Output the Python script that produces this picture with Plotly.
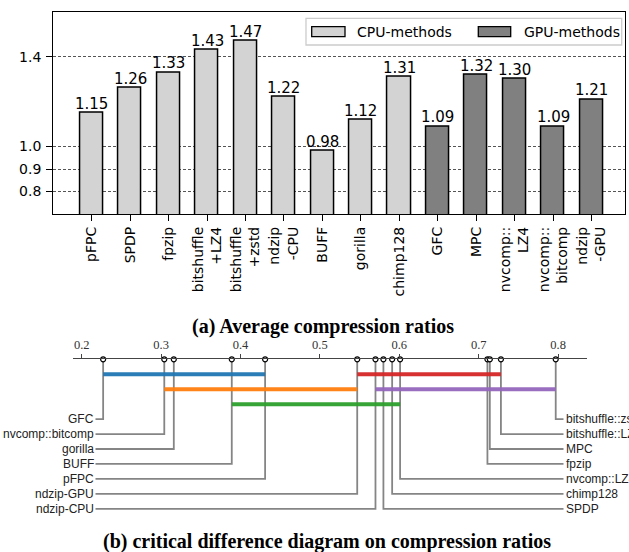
import plotly.graph_objects as go

# ---------------- data ----------------
methods = ["pFPC", "SPDP", "fpzip", "bitshuffle<br>+LZ4", "bitshuffle<br>+zstd",
           "ndzip<br>-CPU", "BUFF", "gorilla", "chimp128", "GFC", "MPC",
           "nvcomp::<br>LZ4", "nvcomp::<br>bitcomp", "ndzip<br>-GPU"]
ratios = [1.15, 1.26, 1.33, 1.43, 1.47, 1.22, 0.98, 1.12, 1.31, 1.09, 1.32, 1.30, 1.09, 1.21]
groups = ["CPU"] * 9 + ["GPU"] * 5
y_ticks = [0.8, 0.9, 1.0, 1.4]

cd_names = ["GFC", "nvcomp::bitcomp", "gorilla", "BUFF", "pFPC", "ndzip-GPU", "ndzip-CPU",
            "SPDP", "chimp128", "nvcomp::LZ4", "fpzip", "MPC", "bitshuffle::LZ4", "bitshuffle::zstd"]
cd_ranks = [0.227, 0.304, 0.316, 0.389, 0.431, 0.547, 0.570,
            0.580, 0.591, 0.601, 0.711, 0.714, 0.728, 0.797]
cliques = [("GFC", "pFPC"), ("nvcomp::bitcomp", "ndzip-GPU"), ("BUFF", "nvcomp::LZ4"),
           ("ndzip-GPU", "bitshuffle::LZ4"), ("ndzip-CPU", "bitshuffle::zstd")]
clique_colors = ["#1f77b4", "#ff7f0e", "#2ca02c", "#d62728", "#9467bd"]
cd_ticks = [0.2, 0.3, 0.4, 0.5, 0.6, 0.7, 0.8]

# ---------------- layout helpers ----------------
W, H = 629, 552
def px_x(x):
    return x / W
def px_y(y):
    return 1 - y / H

fig = go.Figure()
annotations = []

# ---------------- (a) bar chart ----------------
group_style = {"CPU": ("#d3d3d3", "CPU-methods"), "GPU": ("#808080", "GPU-methods")}
for g in ["CPU", "GPU"]:
    xs = [m for m, gg in zip(methods, groups) if gg == g]
    ys = [r for r, gg in zip(ratios, groups) if gg == g]
    fig.add_trace(go.Bar(
        x=xs, y=ys, width=0.6, name=group_style[g][1],
        marker=dict(color=group_style[g][0], line=dict(color="black", width=1.5)),
        showlegend=False, xaxis="x", yaxis="y", hoverinfo="x+y",
    ))

for m, r in zip(methods, ratios):
    annotations.append(dict(x=m, y=r, xref="x", yref="y", text=f"{r:.2f}", showarrow=False,
                            xanchor="center", yanchor="bottom", yshift=-2,
                            font=dict(family="DejaVu Sans", size=15, color="black")))

# ---------------- (b) critical difference diagram ----------------
AX_TOP = 359.3
ROW = 14.95
N_ROWS = 11
rank_of = dict(zip(cd_names, cd_ranks))

# x-axis pixel calibration for the CD axis
X0_PX, X0_VAL, PX_PER_UNIT = 81.7, 0.2, 794.0
def cd_val(px):
    return X0_VAL + (px - X0_PX) / PX_PER_UNIT

order = sorted(range(len(cd_names)), key=lambda i: cd_ranks[i])
half = len(order) // 2
left_idx = order[:half]
right_idx = list(reversed(order[half:]))
left_end = cd_val(95.5)
right_end = cd_val(563.5)

cx, cy = [], []
for row, i in enumerate(left_idx, start=4):
    cx += [cd_ranks[i], cd_ranks[i], left_end, None]
    cy += [0, row, row, None]
for row, i in enumerate(right_idx, start=4):
    cx += [cd_ranks[i], cd_ranks[i], right_end, None]
    cy += [0, row, row, None]
fig.add_trace(go.Scatter(x=cx, y=cy, mode="lines", line=dict(color="#858585", width=1.8),
                         showlegend=False, xaxis="x2", yaxis="y2", hoverinfo="skip"))

# clique bars (greedy row stacking)
row_ends = []
for (a, b), col in zip(cliques, clique_colors):
    s, e = rank_of[a], rank_of[b]
    r = None
    for k, end in enumerate(row_ends):
        if end < s:
            r = k
            row_ends[k] = e
            break
    if r is None:
        row_ends.append(e)
        r = len(row_ends) - 1
    fig.add_trace(go.Scatter(x=[s, e], y=[r + 1, r + 1], mode="lines",
                             line=dict(color=col, width=4), opacity=0.95,
                             showlegend=False, xaxis="x2", yaxis="y2", hoverinfo="skip"))

fig.add_trace(go.Scatter(x=cd_ranks, y=[0] * len(cd_ranks), mode="markers",
                         marker=dict(symbol="circle", size=5, color="white",
                                     line=dict(color="black", width=1.2)),
                         cliponaxis=False, showlegend=False, xaxis="x2", yaxis="y2"))

for row, i in enumerate(left_idx, start=4):
    annotations.append(dict(x=left_end, y=row, xref="x2", yref="y2", text=cd_names[i],
                            showarrow=False, xanchor="right", yanchor="middle",
                            font=dict(family="Liberation Sans", size=12, color="#222")))
for row, i in enumerate(right_idx, start=4):
    annotations.append(dict(x=right_end, y=row, xref="x2", yref="y2", text=cd_names[i],
                            showarrow=False, xanchor="left", yanchor="middle",
                            font=dict(family="Liberation Sans", size=12, color="#222")))

# captions
annotations.append(dict(x=px_x(322.5), y=px_y(326), xref="paper", yref="paper",
                        text="<b>(a) Average compression ratios</b>", showarrow=False,
                        xanchor="center", yanchor="middle",
                        font=dict(family="Liberation Serif", size=20, color="black")))
annotations.append(dict(x=px_x(327), y=px_y(541), xref="paper", yref="paper",
                        text="<b>(b) critical difference diagram on compression ratios</b>",
                        showarrow=False, xanchor="center", yanchor="middle",
                        font=dict(family="Liberation Serif", size=20, color="black")))

# custom legend
shapes = [
    dict(type="rect", xref="paper", yref="paper", x0=px_x(306), x1=px_x(621.7),
         y0=px_y(45), y1=px_y(18.3), line=dict(color="#cccccc", width=1.3),
         fillcolor="rgba(255,255,255,0.85)", layer="above"),
]
for (g, x0, x1, tx) in [("CPU", 311.7, 345, 355), ("GPU", 478.3, 510.7, 521.7)]:
    shapes.append(dict(type="rect", xref="paper", yref="paper", x0=px_x(x0), x1=px_x(x1),
                       y0=px_y(36.7), y1=px_y(26.7), line=dict(color="black", width=1.3),
                       fillcolor=group_style[g][0], layer="above"))
    annotations.append(dict(x=px_x(tx), y=px_y(31.7), xref="paper", yref="paper",
                            text=group_style[g][1], showarrow=False, xanchor="left",
                            yanchor="middle",
                            font=dict(family="DejaVu Sans", size=14, color="black")))

fig.update_layout(
    width=W, height=H, margin=dict(l=0, r=0, t=0, b=0),
    paper_bgcolor="white", plot_bgcolor="white", bargap=0,
    xaxis=dict(domain=[px_x(53.3), px_x(625)], type="category",
               categoryorder="array", categoryarray=methods, range=[-1.0, 13.87],
               showline=True, mirror=True, linecolor="black", linewidth=1.3,
               ticks="outside", ticklen=6, tickcolor="black", tickwidth=1.2,
               tickangle=-90, tickfont=dict(family="DejaVu Sans", size=14, color="black"),
               showgrid=False, anchor="y"),
    yaxis=dict(domain=[px_y(214), px_y(11.7)], range=[0.7, 1.6],
               tickvals=y_ticks, ticktext=[f"{v:.1f}" for v in y_ticks],
               showline=True, mirror=True, linecolor="black", linewidth=1.3,
               ticks="outside", ticklen=6, tickcolor="black", tickwidth=1.2,
               ticklabelstandoff=2,
               tickfont=dict(family="DejaVu Sans", size=14, color="black"),
               showgrid=True, gridcolor="#555555", gridwidth=0.8, griddash="3px,2px",
               zeroline=False, anchor="x"),
    xaxis2=dict(domain=[px_x(72.7), px_x(587)], range=[cd_val(72.7), cd_val(587)],
                side="top", anchor="y2", showline=True, linecolor="#444", linewidth=1.2,
                ticks="outside", ticklen=4, tickcolor="#444", tickwidth=1,
                tickvals=cd_ticks, ticktext=[f"{v:.1f}" for v in cd_ticks],
                tickfont=dict(family="Liberation Serif", size=12.5, color="#333"),
                showgrid=False, zeroline=False),
    yaxis2=dict(domain=[px_y(AX_TOP + N_ROWS * ROW), px_y(AX_TOP)], range=[N_ROWS, 0],
                visible=False, showgrid=False, zeroline=False, anchor="x2"),
    annotations=annotations, shapes=shapes,
)

fig.write_html("out.html")
